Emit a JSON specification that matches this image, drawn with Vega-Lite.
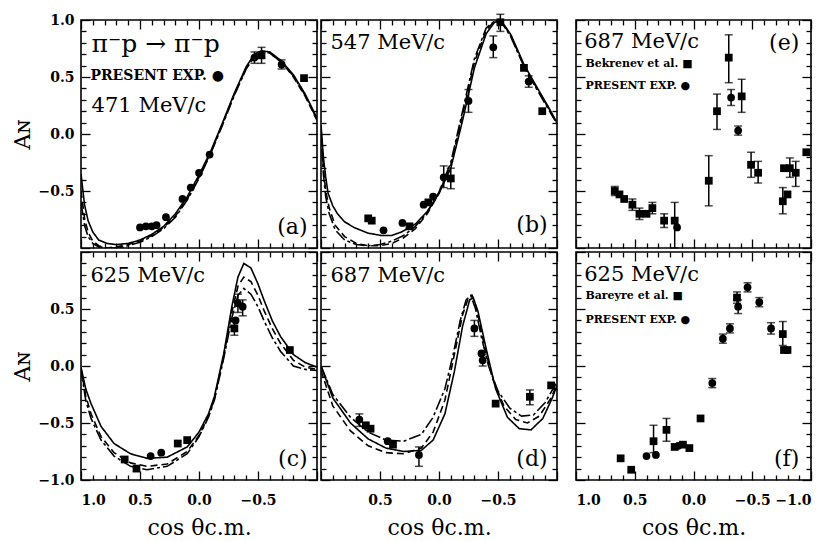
{
"$schema":"https://vega.github.io/schema/vega-lite/v6.json",
"background":"white",
"padding":{"left":11,"top":12,"right":2,"bottom":0},
"config":{
 "view":{"stroke":"black","strokeWidth":1.6},
 "axis":{"domain":false,"grid":false,"tickColor":"black","tickWidth":1.3,"labelFont":"DejaVu Serif","labelFontSize":14,"labelFontWeight":"bold","labelColor":"black","titleFont":"DejaVu Serif","titleFontSize":22,"titleFontWeight":"normal","titleColor":"black"},
 "axisX":{"labelPadding":22,"titlePadding":10},
 "axisY":{"labelPadding":16,"titlePadding":3}
},
"datasets":{
"curves":[
{"panel":"a","style":"solid","cos":1,"A":-0.35},{"panel":"a","style":"solid","cos":0.97,"A":-0.62},{"panel":"a","style":"solid","cos":0.94,"A":-0.76},{"panel":"a","style":"solid","cos":0.9,"A":-0.86},{"panel":"a","style":"solid","cos":0.85,"A":-0.93},{"panel":"a","style":"solid","cos":0.78,"A":-0.96},{"panel":"a","style":"solid","cos":0.7,"A":-0.97},{"panel":"a","style":"solid","cos":0.6,"A":-0.96},{"panel":"a","style":"solid","cos":0.5,"A":-0.93},{"panel":"a","style":"solid","cos":0.4,"A":-0.88},{"panel":"a","style":"solid","cos":0.3,"A":-0.81},{"panel":"a","style":"solid","cos":0.2,"A":-0.7},{"panel":"a","style":"solid","cos":0.1,"A":-0.55},{"panel":"a","style":"solid","cos":0,"A":-0.36},{"panel":"a","style":"solid","cos":-0.1,"A":-0.15},{"panel":"a","style":"solid","cos":-0.2,"A":0.1},{"panel":"a","style":"solid","cos":-0.3,"A":0.36},{"panel":"a","style":"solid","cos":-0.4,"A":0.59},{"panel":"a","style":"solid","cos":-0.47,"A":0.7},{"panel":"a","style":"solid","cos":-0.53,"A":0.73},{"panel":"a","style":"solid","cos":-0.6,"A":0.72},{"panel":"a","style":"solid","cos":-0.7,"A":0.64},{"panel":"a","style":"solid","cos":-0.8,"A":0.52},{"panel":"a","style":"solid","cos":-0.9,"A":0.35},{"panel":"a","style":"solid","cos":-1,"A":0.14},
{"panel":"a","style":"dash","cos":1,"A":-0.5},{"panel":"a","style":"dash","cos":0.97,"A":-0.74},{"panel":"a","style":"dash","cos":0.94,"A":-0.86},{"panel":"a","style":"dash","cos":0.9,"A":-0.94},{"panel":"a","style":"dash","cos":0.85,"A":-0.98},{"panel":"a","style":"dash","cos":0.78,"A":-1.0},{"panel":"a","style":"dash","cos":0.7,"A":-0.99},{"panel":"a","style":"dash","cos":0.6,"A":-0.97},{"panel":"a","style":"dash","cos":0.5,"A":-0.94},{"panel":"a","style":"dash","cos":0.4,"A":-0.89},{"panel":"a","style":"dash","cos":0.3,"A":-0.82},{"panel":"a","style":"dash","cos":0.2,"A":-0.72},{"panel":"a","style":"dash","cos":0.1,"A":-0.57},{"panel":"a","style":"dash","cos":0,"A":-0.38},{"panel":"a","style":"dash","cos":-0.1,"A":-0.16},{"panel":"a","style":"dash","cos":-0.2,"A":0.09},{"panel":"a","style":"dash","cos":-0.3,"A":0.35},{"panel":"a","style":"dash","cos":-0.4,"A":0.58},{"panel":"a","style":"dash","cos":-0.47,"A":0.69},{"panel":"a","style":"dash","cos":-0.53,"A":0.72},{"panel":"a","style":"dash","cos":-0.6,"A":0.71},{"panel":"a","style":"dash","cos":-0.7,"A":0.63},{"panel":"a","style":"dash","cos":-0.8,"A":0.5},{"panel":"a","style":"dash","cos":-0.9,"A":0.33},{"panel":"a","style":"dash","cos":-1,"A":0.12},
{"panel":"a","style":"dashdot","cos":1,"A":-0.6},{"panel":"a","style":"dashdot","cos":0.97,"A":-0.8},{"panel":"a","style":"dashdot","cos":0.94,"A":-0.9},{"panel":"a","style":"dashdot","cos":0.9,"A":-0.96},{"panel":"a","style":"dashdot","cos":0.85,"A":-0.99},{"panel":"a","style":"dashdot","cos":0.78,"A":-1.0},{"panel":"a","style":"dashdot","cos":0.7,"A":-1.0},{"panel":"a","style":"dashdot","cos":0.6,"A":-0.98},{"panel":"a","style":"dashdot","cos":0.5,"A":-0.95},{"panel":"a","style":"dashdot","cos":0.4,"A":-0.9},{"panel":"a","style":"dashdot","cos":0.3,"A":-0.83},{"panel":"a","style":"dashdot","cos":0.2,"A":-0.73},{"panel":"a","style":"dashdot","cos":0.1,"A":-0.58},{"panel":"a","style":"dashdot","cos":0,"A":-0.39},{"panel":"a","style":"dashdot","cos":-0.1,"A":-0.17},{"panel":"a","style":"dashdot","cos":-0.2,"A":0.08},{"panel":"a","style":"dashdot","cos":-0.3,"A":0.34},{"panel":"a","style":"dashdot","cos":-0.4,"A":0.57},{"panel":"a","style":"dashdot","cos":-0.47,"A":0.68},{"panel":"a","style":"dashdot","cos":-0.53,"A":0.72},{"panel":"a","style":"dashdot","cos":-0.6,"A":0.71},{"panel":"a","style":"dashdot","cos":-0.7,"A":0.63},{"panel":"a","style":"dashdot","cos":-0.8,"A":0.51},{"panel":"a","style":"dashdot","cos":-0.9,"A":0.34},{"panel":"a","style":"dashdot","cos":-1,"A":0.13},
{"panel":"b","style":"solid","cos":1,"A":0.08},{"panel":"b","style":"solid","cos":0.98,"A":-0.2},{"panel":"b","style":"solid","cos":0.96,"A":-0.38},{"panel":"b","style":"solid","cos":0.94,"A":-0.52},{"panel":"b","style":"solid","cos":0.9,"A":-0.63},{"panel":"b","style":"solid","cos":0.86,"A":-0.7},{"panel":"b","style":"solid","cos":0.8,"A":-0.77},{"panel":"b","style":"solid","cos":0.72,"A":-0.82},{"panel":"b","style":"solid","cos":0.6,"A":-0.87},{"panel":"b","style":"solid","cos":0.49,"A":-0.89},{"panel":"b","style":"solid","cos":0.4,"A":-0.89},{"panel":"b","style":"solid","cos":0.32,"A":-0.86},{"panel":"b","style":"solid","cos":0.2,"A":-0.79},{"panel":"b","style":"solid","cos":0.1,"A":-0.68},{"panel":"b","style":"solid","cos":0,"A":-0.52},{"panel":"b","style":"solid","cos":-0.1,"A":-0.3},{"panel":"b","style":"solid","cos":-0.2,"A":0.12},{"panel":"b","style":"solid","cos":-0.3,"A":0.58},{"panel":"b","style":"solid","cos":-0.4,"A":0.88},{"panel":"b","style":"solid","cos":-0.47,"A":0.98},{"panel":"b","style":"solid","cos":-0.53,"A":0.99},{"panel":"b","style":"solid","cos":-0.61,"A":0.87},{"panel":"b","style":"solid","cos":-0.72,"A":0.61},{"panel":"b","style":"solid","cos":-0.83,"A":0.41},{"panel":"b","style":"solid","cos":-0.92,"A":0.25},{"panel":"b","style":"solid","cos":-1,"A":0.1},
{"panel":"b","style":"dash","cos":1,"A":0.06},{"panel":"b","style":"dash","cos":0.98,"A":-0.3},{"panel":"b","style":"dash","cos":0.96,"A":-0.5},{"panel":"b","style":"dash","cos":0.93,"A":-0.65},{"panel":"b","style":"dash","cos":0.88,"A":-0.8},{"panel":"b","style":"dash","cos":0.8,"A":-0.9},{"panel":"b","style":"dash","cos":0.7,"A":-0.96},{"panel":"b","style":"dash","cos":0.6,"A":-0.98},{"panel":"b","style":"dash","cos":0.5,"A":-0.98},{"panel":"b","style":"dash","cos":0.4,"A":-0.96},{"panel":"b","style":"dash","cos":0.3,"A":-0.91},{"panel":"b","style":"dash","cos":0.2,"A":-0.83},{"panel":"b","style":"dash","cos":0.1,"A":-0.7},{"panel":"b","style":"dash","cos":0,"A":-0.52},{"panel":"b","style":"dash","cos":-0.1,"A":-0.27},{"panel":"b","style":"dash","cos":-0.2,"A":0.17},{"panel":"b","style":"dash","cos":-0.3,"A":0.63},{"panel":"b","style":"dash","cos":-0.4,"A":0.91},{"panel":"b","style":"dash","cos":-0.47,"A":0.99},{"panel":"b","style":"dash","cos":-0.53,"A":0.99},{"panel":"b","style":"dash","cos":-0.61,"A":0.86},{"panel":"b","style":"dash","cos":-0.72,"A":0.6},{"panel":"b","style":"dash","cos":-0.83,"A":0.4},{"panel":"b","style":"dash","cos":-0.92,"A":0.24},{"panel":"b","style":"dash","cos":-1,"A":0.09},
{"panel":"b","style":"dashdot","cos":1,"A":0.05},{"panel":"b","style":"dashdot","cos":0.98,"A":-0.35},{"panel":"b","style":"dashdot","cos":0.96,"A":-0.55},{"panel":"b","style":"dashdot","cos":0.93,"A":-0.7},{"panel":"b","style":"dashdot","cos":0.88,"A":-0.84},{"panel":"b","style":"dashdot","cos":0.8,"A":-0.93},{"panel":"b","style":"dashdot","cos":0.7,"A":-0.97},{"panel":"b","style":"dashdot","cos":0.6,"A":-0.98},{"panel":"b","style":"dashdot","cos":0.5,"A":-0.97},{"panel":"b","style":"dashdot","cos":0.4,"A":-0.94},{"panel":"b","style":"dashdot","cos":0.3,"A":-0.89},{"panel":"b","style":"dashdot","cos":0.2,"A":-0.81},{"panel":"b","style":"dashdot","cos":0.1,"A":-0.69},{"panel":"b","style":"dashdot","cos":0,"A":-0.51},{"panel":"b","style":"dashdot","cos":-0.1,"A":-0.25},{"panel":"b","style":"dashdot","cos":-0.2,"A":0.2},{"panel":"b","style":"dashdot","cos":-0.3,"A":0.66},{"panel":"b","style":"dashdot","cos":-0.4,"A":0.93},{"panel":"b","style":"dashdot","cos":-0.47,"A":0.99},{"panel":"b","style":"dashdot","cos":-0.53,"A":0.98},{"panel":"b","style":"dashdot","cos":-0.61,"A":0.85},{"panel":"b","style":"dashdot","cos":-0.72,"A":0.59},{"panel":"b","style":"dashdot","cos":-0.83,"A":0.39},{"panel":"b","style":"dashdot","cos":-0.92,"A":0.23},{"panel":"b","style":"dashdot","cos":-1,"A":0.09},
{"panel":"c","style":"solid","cos":1,"A":-0.01},{"panel":"c","style":"solid","cos":0.96,"A":-0.2},{"panel":"c","style":"solid","cos":0.915,"A":-0.33},{"panel":"c","style":"solid","cos":0.83,"A":-0.53},{"panel":"c","style":"solid","cos":0.72,"A":-0.68},{"panel":"c","style":"solid","cos":0.58,"A":-0.77},{"panel":"c","style":"solid","cos":0.44,"A":-0.81},{"panel":"c","style":"solid","cos":0.27,"A":-0.8},{"panel":"c","style":"solid","cos":0.1,"A":-0.71},{"panel":"c","style":"solid","cos":0,"A":-0.58},{"panel":"c","style":"solid","cos":-0.08,"A":-0.42},{"panel":"c","style":"solid","cos":-0.13,"A":-0.27},{"panel":"c","style":"solid","cos":-0.21,"A":0.11},{"panel":"c","style":"solid","cos":-0.28,"A":0.53},{"panel":"c","style":"solid","cos":-0.33,"A":0.78},{"panel":"c","style":"solid","cos":-0.38,"A":0.9},{"panel":"c","style":"solid","cos":-0.44,"A":0.86},{"panel":"c","style":"solid","cos":-0.5,"A":0.72},{"panel":"c","style":"solid","cos":-0.55,"A":0.58},{"panel":"c","style":"solid","cos":-0.62,"A":0.4},{"panel":"c","style":"solid","cos":-0.69,"A":0.26},{"panel":"c","style":"solid","cos":-0.8,"A":0.1},{"panel":"c","style":"solid","cos":-0.9,"A":0.03},{"panel":"c","style":"solid","cos":-1,"A":-0.01},
{"panel":"c","style":"dash","cos":1,"A":-0.02},{"panel":"c","style":"dash","cos":0.96,"A":-0.26},{"panel":"c","style":"dash","cos":0.915,"A":-0.42},{"panel":"c","style":"dash","cos":0.83,"A":-0.62},{"panel":"c","style":"dash","cos":0.72,"A":-0.76},{"panel":"c","style":"dash","cos":0.58,"A":-0.85},{"panel":"c","style":"dash","cos":0.44,"A":-0.88},{"panel":"c","style":"dash","cos":0.27,"A":-0.86},{"panel":"c","style":"dash","cos":0.1,"A":-0.75},{"panel":"c","style":"dash","cos":0,"A":-0.61},{"panel":"c","style":"dash","cos":-0.08,"A":-0.44},{"panel":"c","style":"dash","cos":-0.13,"A":-0.29},{"panel":"c","style":"dash","cos":-0.21,"A":0.09},{"panel":"c","style":"dash","cos":-0.28,"A":0.48},{"panel":"c","style":"dash","cos":-0.33,"A":0.7},{"panel":"c","style":"dash","cos":-0.38,"A":0.78},{"panel":"c","style":"dash","cos":-0.44,"A":0.74},{"panel":"c","style":"dash","cos":-0.5,"A":0.62},{"panel":"c","style":"dash","cos":-0.55,"A":0.49},{"panel":"c","style":"dash","cos":-0.62,"A":0.33},{"panel":"c","style":"dash","cos":-0.69,"A":0.2},{"panel":"c","style":"dash","cos":-0.8,"A":0.05},{"panel":"c","style":"dash","cos":-0.9,"A":-0.01},{"panel":"c","style":"dash","cos":-1,"A":-0.03},
{"panel":"c","style":"dashdot","cos":1,"A":-0.03},{"panel":"c","style":"dashdot","cos":0.96,"A":-0.3},{"panel":"c","style":"dashdot","cos":0.915,"A":-0.46},{"panel":"c","style":"dashdot","cos":0.83,"A":-0.65},{"panel":"c","style":"dashdot","cos":0.72,"A":-0.79},{"panel":"c","style":"dashdot","cos":0.58,"A":-0.88},{"panel":"c","style":"dashdot","cos":0.44,"A":-0.91},{"panel":"c","style":"dashdot","cos":0.27,"A":-0.88},{"panel":"c","style":"dashdot","cos":0.1,"A":-0.77},{"panel":"c","style":"dashdot","cos":0,"A":-0.62},{"panel":"c","style":"dashdot","cos":-0.08,"A":-0.45},{"panel":"c","style":"dashdot","cos":-0.13,"A":-0.3},{"panel":"c","style":"dashdot","cos":-0.21,"A":0.07},{"panel":"c","style":"dashdot","cos":-0.28,"A":0.43},{"panel":"c","style":"dashdot","cos":-0.33,"A":0.62},{"panel":"c","style":"dashdot","cos":-0.38,"A":0.68},{"panel":"c","style":"dashdot","cos":-0.44,"A":0.63},{"panel":"c","style":"dashdot","cos":-0.5,"A":0.52},{"panel":"c","style":"dashdot","cos":-0.55,"A":0.4},{"panel":"c","style":"dashdot","cos":-0.62,"A":0.25},{"panel":"c","style":"dashdot","cos":-0.69,"A":0.13},{"panel":"c","style":"dashdot","cos":-0.8,"A":0.0},{"panel":"c","style":"dashdot","cos":-0.9,"A":-0.03},{"panel":"c","style":"dashdot","cos":-1,"A":-0.04},
{"panel":"d","style":"dashdot","cos":1,"A":0},{"panel":"d","style":"dashdot","cos":0.9,"A":-0.25},{"panel":"d","style":"dashdot","cos":0.75,"A":-0.45},{"panel":"d","style":"dashdot","cos":0.6,"A":-0.58},{"panel":"d","style":"dashdot","cos":0.45,"A":-0.65},{"panel":"d","style":"dashdot","cos":0.3,"A":-0.66},{"panel":"d","style":"dashdot","cos":0.15,"A":-0.6},{"panel":"d","style":"dashdot","cos":0.05,"A":-0.45},{"panel":"d","style":"dashdot","cos":-0.05,"A":-0.2},{"panel":"d","style":"dashdot","cos":-0.12,"A":0.1},{"panel":"d","style":"dashdot","cos":-0.18,"A":0.4},{"panel":"d","style":"dashdot","cos":-0.23,"A":0.58},{"panel":"d","style":"dashdot","cos":-0.27,"A":0.62},{"panel":"d","style":"dashdot","cos":-0.31,"A":0.5},{"panel":"d","style":"dashdot","cos":-0.36,"A":0.25},{"panel":"d","style":"dashdot","cos":-0.42,"A":0.0},{"panel":"d","style":"dashdot","cos":-0.5,"A":-0.22},{"panel":"d","style":"dashdot","cos":-0.6,"A":-0.37},{"panel":"d","style":"dashdot","cos":-0.7,"A":-0.44},{"panel":"d","style":"dashdot","cos":-0.8,"A":-0.43},{"panel":"d","style":"dashdot","cos":-0.9,"A":-0.32},{"panel":"d","style":"dashdot","cos":-1,"A":-0.14},
{"panel":"d","style":"dash","cos":1,"A":-0.04},{"panel":"d","style":"dash","cos":0.9,"A":-0.35},{"panel":"d","style":"dash","cos":0.75,"A":-0.57},{"panel":"d","style":"dash","cos":0.6,"A":-0.7},{"panel":"d","style":"dash","cos":0.45,"A":-0.76},{"panel":"d","style":"dash","cos":0.3,"A":-0.77},{"panel":"d","style":"dash","cos":0.15,"A":-0.72},{"panel":"d","style":"dash","cos":0.05,"A":-0.58},{"panel":"d","style":"dash","cos":-0.05,"A":-0.3},{"panel":"d","style":"dash","cos":-0.13,"A":0.1},{"panel":"d","style":"dash","cos":-0.2,"A":0.45},{"panel":"d","style":"dash","cos":-0.25,"A":0.6},{"panel":"d","style":"dash","cos":-0.28,"A":0.62},{"panel":"d","style":"dash","cos":-0.32,"A":0.5},{"panel":"d","style":"dash","cos":-0.38,"A":0.2},{"panel":"d","style":"dash","cos":-0.45,"A":-0.1},{"panel":"d","style":"dash","cos":-0.55,"A":-0.35},{"panel":"d","style":"dash","cos":-0.65,"A":-0.47},{"panel":"d","style":"dash","cos":-0.75,"A":-0.5},{"panel":"d","style":"dash","cos":-0.85,"A":-0.44},{"panel":"d","style":"dash","cos":-0.95,"A":-0.28},{"panel":"d","style":"dash","cos":-1,"A":-0.16},
{"panel":"d","style":"solid","cos":1,"A":0},{"panel":"d","style":"solid","cos":0.9,"A":-0.28},{"panel":"d","style":"solid","cos":0.75,"A":-0.5},{"panel":"d","style":"solid","cos":0.6,"A":-0.64},{"panel":"d","style":"solid","cos":0.45,"A":-0.72},{"panel":"d","style":"solid","cos":0.3,"A":-0.75},{"panel":"d","style":"solid","cos":0.15,"A":-0.74},{"panel":"d","style":"solid","cos":0.05,"A":-0.65},{"panel":"d","style":"solid","cos":-0.05,"A":-0.42},{"panel":"d","style":"solid","cos":-0.13,"A":-0.05},{"panel":"d","style":"solid","cos":-0.2,"A":0.35},{"panel":"d","style":"solid","cos":-0.26,"A":0.58},{"panel":"d","style":"solid","cos":-0.29,"A":0.6},{"panel":"d","style":"solid","cos":-0.33,"A":0.48},{"panel":"d","style":"solid","cos":-0.4,"A":0.15},{"panel":"d","style":"solid","cos":-0.48,"A":-0.2},{"panel":"d","style":"solid","cos":-0.58,"A":-0.45},{"panel":"d","style":"solid","cos":-0.68,"A":-0.55},{"panel":"d","style":"solid","cos":-0.78,"A":-0.56},{"panel":"d","style":"solid","cos":-0.88,"A":-0.46},{"panel":"d","style":"solid","cos":-0.96,"A":-0.28},{"panel":"d","style":"solid","cos":-1,"A":-0.17}
],
"points":[
{"panel":"a","type":"c","cos":0.5,"A":-0.82},{"panel":"a","type":"c","cos":0.45,"A":-0.81},{"panel":"a","type":"c","cos":0.4,"A":-0.81},{"panel":"a","type":"c","cos":0.36,"A":-0.8},{"panel":"a","type":"c","cos":0.28,"A":-0.73},{"panel":"a","type":"c","cos":0.14,"A":-0.57},{"panel":"a","type":"c","cos":0.07,"A":-0.47},{"panel":"a","type":"c","cos":0.0,"A":-0.34},{"panel":"a","type":"c","cos":-0.09,"A":-0.18},{"panel":"a","type":"c","cos":-0.47,"A":0.67,"lo":0.62,"hi":0.72},{"panel":"a","type":"s","cos":-0.53,"A":0.69,"lo":0.62,"hi":0.76},{"panel":"a","type":"c","cos":-0.7,"A":0.61,"lo":0.57,"hi":0.65},{"panel":"a","type":"s","cos":-0.89,"A":0.49},
{"panel":"b","type":"s","cos":0.6,"A":-0.74},{"panel":"b","type":"s","cos":0.57,"A":-0.76},{"panel":"b","type":"c","cos":0.47,"A":-0.845},{"panel":"b","type":"c","cos":0.31,"A":-0.78},{"panel":"b","type":"s","cos":0.25,"A":-0.81},{"panel":"b","type":"c","cos":0.13,"A":-0.62},{"panel":"b","type":"s","cos":0.09,"A":-0.6},{"panel":"b","type":"c","cos":0.05,"A":-0.55},{"panel":"b","type":"c","cos":-0.04,"A":-0.38,"lo":-0.47,"hi":-0.28},{"panel":"b","type":"s","cos":-0.1,"A":-0.39,"lo":-0.48,"hi":-0.3},{"panel":"b","type":"c","cos":-0.25,"A":0.29,"lo":0.19,"hi":0.39},{"panel":"b","type":"c","cos":-0.46,"A":0.76,"lo":0.67,"hi":0.86},{"panel":"b","type":"s","cos":-0.52,"A":0.98,"lo":0.9,"hi":1.05},{"panel":"b","type":"s","cos":-0.72,"A":0.58},{"panel":"b","type":"c","cos":-0.76,"A":0.46,"lo":0.41,"hi":0.51},{"panel":"b","type":"s","cos":-0.875,"A":0.2},
{"panel":"c","type":"s","cos":0.63,"A":-0.82},{"panel":"c","type":"s","cos":0.53,"A":-0.9},{"panel":"c","type":"c","cos":0.41,"A":-0.79},{"panel":"c","type":"c","cos":0.32,"A":-0.76},{"panel":"c","type":"s","cos":0.18,"A":-0.68},{"panel":"c","type":"s","cos":0.1,"A":-0.65},{"panel":"c","type":"s","cos":-0.3,"A":0.33,"lo":0.27,"hi":0.4},{"panel":"c","type":"c","cos":-0.31,"A":0.4},{"panel":"c","type":"c","cos":-0.33,"A":0.55,"lo":0.47,"hi":0.63},{"panel":"c","type":"c","cos":-0.37,"A":0.52,"lo":0.44,"hi":0.58},{"panel":"c","type":"s","cos":-0.77,"A":0.14},
{"panel":"d","type":"c","cos":0.675,"A":-0.47,"lo":-0.53,"hi":-0.42},{"panel":"d","type":"s","cos":0.62,"A":-0.52},{"panel":"d","type":"s","cos":0.58,"A":-0.55},{"panel":"d","type":"c","cos":0.435,"A":-0.66},{"panel":"d","type":"s","cos":0.39,"A":-0.69},{"panel":"d","type":"c","cos":0.17,"A":-0.78,"lo":-0.88,"hi":-0.71},{"panel":"d","type":"c","cos":-0.3,"A":0.33,"lo":0.26,"hi":0.4},{"panel":"d","type":"c","cos":-0.36,"A":0.11},{"panel":"d","type":"c","cos":-0.37,"A":0.05,"lo":0.0,"hi":0.1},{"panel":"d","type":"s","cos":-0.48,"A":-0.33},{"panel":"d","type":"s","cos":-0.77,"A":-0.27,"lo":-0.34,"hi":-0.21},{"panel":"d","type":"s","cos":-0.95,"A":-0.17},
{"panel":"e","type":"s","cos":0.67,"A":-0.5,"lo":-0.54,"hi":-0.46},{"panel":"e","type":"s","cos":0.63,"A":-0.53},{"panel":"e","type":"s","cos":0.59,"A":-0.57},{"panel":"e","type":"s","cos":0.52,"A":-0.62,"lo":-0.67,"hi":-0.57},{"panel":"e","type":"s","cos":0.46,"A":-0.7,"lo":-0.75,"hi":-0.65},{"panel":"e","type":"s","cos":0.4,"A":-0.7},{"panel":"e","type":"s","cos":0.35,"A":-0.65,"lo":-0.7,"hi":-0.6},{"panel":"e","type":"s","cos":0.25,"A":-0.76,"lo":-0.82,"hi":-0.7},{"panel":"e","type":"s","cos":0.16,"A":-0.76,"lo":-1.0,"hi":-0.6},{"panel":"e","type":"c","cos":0.14,"A":-0.82},{"panel":"e","type":"s","cos":-0.13,"A":-0.41,"lo":-0.63,"hi":-0.19},{"panel":"e","type":"s","cos":-0.2,"A":0.2,"lo":0.04,"hi":0.35},{"panel":"e","type":"s","cos":-0.3,"A":0.67,"lo":0.45,"hi":0.87},{"panel":"e","type":"c","cos":-0.32,"A":0.32,"lo":0.25,"hi":0.39},{"panel":"e","type":"s","cos":-0.41,"A":0.33,"lo":0.19,"hi":0.48},{"panel":"e","type":"c","cos":-0.38,"A":0.03,"lo":-0.01,"hi":0.07},{"panel":"e","type":"s","cos":-0.49,"A":-0.27,"lo":-0.38,"hi":-0.16},{"panel":"e","type":"s","cos":-0.55,"A":-0.34,"lo":-0.43,"hi":-0.24},{"panel":"e","type":"s","cos":-0.76,"A":-0.59,"lo":-0.7,"hi":-0.47},{"panel":"e","type":"s","cos":-0.8,"A":-0.53},{"panel":"e","type":"s","cos":-0.77,"A":-0.3},{"panel":"e","type":"s","cos":-0.82,"A":-0.3,"lo":-0.38,"hi":-0.21},{"panel":"e","type":"s","cos":-0.87,"A":-0.34,"lo":-0.46,"hi":-0.24},{"panel":"e","type":"s","cos":-0.96,"A":-0.16},
{"panel":"f","type":"s","cos":0.62,"A":-0.81},{"panel":"f","type":"s","cos":0.53,"A":-0.91},{"panel":"f","type":"c","cos":0.4,"A":-0.79},{"panel":"f","type":"c","cos":0.32,"A":-0.78},{"panel":"f","type":"s","cos":0.34,"A":-0.66,"lo":-0.76,"hi":-0.52},{"panel":"f","type":"s","cos":0.23,"A":-0.56,"lo":-0.66,"hi":-0.46},{"panel":"f","type":"s","cos":0.16,"A":-0.71},{"panel":"f","type":"c","cos":0.13,"A":-0.7},{"panel":"f","type":"s","cos":0.09,"A":-0.69},{"panel":"f","type":"s","cos":0.035,"A":-0.72},{"panel":"f","type":"s","cos":-0.06,"A":-0.46},{"panel":"f","type":"c","cos":-0.16,"A":-0.15,"lo":-0.19,"hi":-0.11},{"panel":"f","type":"c","cos":-0.25,"A":0.24,"lo":0.2,"hi":0.28},{"panel":"f","type":"c","cos":-0.31,"A":0.33,"lo":0.29,"hi":0.37},{"panel":"f","type":"s","cos":-0.37,"A":0.6,"lo":0.55,"hi":0.65},{"panel":"f","type":"c","cos":-0.38,"A":0.52,"lo":0.46,"hi":0.58},{"panel":"f","type":"c","cos":-0.46,"A":0.69,"lo":0.65,"hi":0.73},{"panel":"f","type":"c","cos":-0.56,"A":0.56,"lo":0.52,"hi":0.6},{"panel":"f","type":"c","cos":-0.66,"A":0.33,"lo":0.28,"hi":0.38},{"panel":"f","type":"s","cos":-0.76,"A":0.28,"lo":0.18,"hi":0.39},{"panel":"f","type":"s","cos":-0.77,"A":0.14},{"panel":"f","type":"s","cos":-0.8,"A":0.14}
]
},
"spacing":15,
"hconcat":[
{"spacing":0,"vconcat":[
 {"spacing":0,"hconcat":[
  {"width":236,"height":228,"resolve":{"axis":{"x":"independent","y":"independent"}},"layer":[
   {"data":{"name":"curves"},"transform":[{"filter":"datum.panel === 'a'"}],"mark":{"type":"line","clip":true,"color":"black","strokeWidth":1.6},
    "encoding":{"x":{"field":"cos","type":"quantitative","scale":{"domain":[-1,1],"reverse":true,"nice":false,"zero":false},"axis":{"orient":"bottom","values":[-1,-0.9,-0.8,-0.7,-0.6,-0.5,-0.4,-0.3,-0.2,-0.1,0,0.1,0.2,0.3,0.4,0.5,0.6,0.7,0.8,0.9,1],"tickSize":{"condition":{"test":"abs(datum.value*2-round(datum.value*2))<0.001","value":-9},"value":-5},"labels":false,"title":null}},
     "y":{"field":"A","type":"quantitative","scale":{"domain":[-1,1],"nice":false,"zero":false},"axis":{"orient":"left","values":[-1,-0.9,-0.8,-0.7,-0.6,-0.5,-0.4,-0.3,-0.2,-0.1,0,0.1,0.2,0.3,0.4,0.5,0.6,0.7,0.8,0.9,1],"tickSize":{"condition":{"test":"abs(datum.value*2-round(datum.value*2))<0.001","value":-9},"value":-5},"labelExpr":"abs(datum.value*2-round(datum.value*2))<0.001 && datum.value>-0.9 ? format(datum.value,'.1f') : ''","title":"Aɴ"}},
     "strokeDash":{"field":"style","type":"nominal","scale":{"domain":["solid","dash","dashdot"],"range":[[1,0],[7,4],[12,3,3,3]]},"legend":null}}},
   {"data":{"name":"points"},"transform":[{"filter":"datum.panel === 'a' && isValid(datum.lo)"}],"mark":{"type":"rule","color":"black","strokeWidth":1.5},
    "encoding":{"x":{"field":"cos","type":"quantitative","scale":{"domain":[-1,1],"reverse":true,"nice":false,"zero":false},"axis":null},"y":{"field":"lo","type":"quantitative","scale":{"domain":[-1,1],"nice":false,"zero":false},"axis":null},"y2":{"field":"hi"}}},
   {"data":{"name":"points"},"transform":[{"filter":"datum.panel === 'a' && isValid(datum.lo)"}],"mark":{"type":"tick","orient":"horizontal","color":"black","size":8,"thickness":1.5},
    "encoding":{"x":{"field":"cos","type":"quantitative","scale":{"domain":[-1,1],"reverse":true,"nice":false,"zero":false},"axis":null},"y":{"field":"lo","type":"quantitative","scale":{"domain":[-1,1],"nice":false,"zero":false},"axis":null}}},
   {"data":{"name":"points"},"transform":[{"filter":"datum.panel === 'a' && isValid(datum.lo)"}],"mark":{"type":"tick","orient":"horizontal","color":"black","size":8,"thickness":1.5},
    "encoding":{"x":{"field":"cos","type":"quantitative","scale":{"domain":[-1,1],"reverse":true,"nice":false,"zero":false},"axis":null},"y":{"field":"hi","type":"quantitative","scale":{"domain":[-1,1],"nice":false,"zero":false},"axis":null}}},
   {"data":{"name":"points"},"transform":[{"filter":"datum.panel === 'a'"}],"mark":{"type":"point","filled":true,"color":"black","opacity":1,"size":60},
    "encoding":{"x":{"field":"cos","type":"quantitative","scale":{"domain":[-1,1],"reverse":true,"nice":false,"zero":false},"axis":null},"y":{"field":"A","type":"quantitative","scale":{"domain":[-1,1],"nice":false,"zero":false},"axis":null},"shape":{"field":"type","type":"nominal","scale":{"domain":["c","s"],"range":["circle","square"]},"legend":null}}},
   {"data":{"values":[{"t":"π⁻p → π⁻p"}]},"mark":{"type":"text","align":"left","baseline":"middle","font":"DejaVu Serif","fontSize":25,"color":"black"},
    "encoding":{"x":{"datum":0.91,"type":"quantitative","scale":{"domain":[-1,1],"reverse":true,"nice":false,"zero":false},"axis":null},"y":{"datum":0.79,"type":"quantitative","scale":{"domain":[-1,1],"nice":false,"zero":false},"axis":null},"text":{"field":"t"}}},
   {"data":{"values":[{"t":"PRESENT EXP. ●"}]},"mark":{"type":"text","align":"left","baseline":"middle","font":"DejaVu Serif","fontSize":14,"fontWeight":"bold","color":"black"},
    "encoding":{"x":{"datum":0.92,"type":"quantitative","scale":{"domain":[-1,1],"reverse":true,"nice":false,"zero":false},"axis":null},"y":{"datum":0.51,"type":"quantitative","scale":{"domain":[-1,1],"nice":false,"zero":false},"axis":null},"text":{"field":"t"}}},
   {"data":{"values":[{"t":"471 MeV/c"}]},"mark":{"type":"text","align":"left","baseline":"middle","font":"DejaVu Serif","fontSize":21,"color":"black"},
    "encoding":{"x":{"datum":0.91,"type":"quantitative","scale":{"domain":[-1,1],"reverse":true,"nice":false,"zero":false},"axis":null},"y":{"datum":0.25,"type":"quantitative","scale":{"domain":[-1,1],"nice":false,"zero":false},"axis":null},"text":{"field":"t"}}},
   {"data":{"values":[{"t":"(a)"}]},"mark":{"type":"text","align":"right","baseline":"middle","font":"DejaVu Serif","fontSize":22,"color":"black"},
    "encoding":{"x":{"datum":-0.92,"type":"quantitative","scale":{"domain":[-1,1],"reverse":true,"nice":false,"zero":false},"axis":null},"y":{"datum":-0.82,"type":"quantitative","scale":{"domain":[-1,1],"nice":false,"zero":false},"axis":null},"text":{"field":"t"}}},
   {"data":{"values":[{"cos":0,"A":0}]},"mark":{"type":"point","opacity":0},
    "encoding":{"x":{"field":"cos","type":"quantitative","scale":{"domain":[-1,1],"reverse":true,"nice":false,"zero":false},"axis":{"orient":"top","values":[-1,-0.9,-0.8,-0.7,-0.6,-0.5,-0.4,-0.3,-0.2,-0.1,0,0.1,0.2,0.3,0.4,0.5,0.6,0.7,0.8,0.9,1],"tickSize":{"condition":{"test":"abs(datum.value*2-round(datum.value*2))<0.001","value":-9},"value":-5},"labels":false,"title":null}},
     "y":{"field":"A","type":"quantitative","scale":{"domain":[-1,1],"nice":false,"zero":false},"axis":{"orient":"right","values":[-1,-0.9,-0.8,-0.7,-0.6,-0.5,-0.4,-0.3,-0.2,-0.1,0,0.1,0.2,0.3,0.4,0.5,0.6,0.7,0.8,0.9,1],"tickSize":{"condition":{"test":"abs(datum.value*2-round(datum.value*2))<0.001","value":-9},"value":-5},"labels":false,"title":null}}}}
  ]},
  {"width":236,"height":228,"resolve":{"axis":{"x":"independent","y":"independent"}},"layer":[
   {"data":{"name":"curves"},"transform":[{"filter":"datum.panel === 'b'"}],"mark":{"type":"line","clip":true,"color":"black","strokeWidth":1.6},
    "encoding":{"x":{"field":"cos","type":"quantitative","scale":{"domain":[-1,1],"reverse":true,"nice":false,"zero":false},"axis":{"orient":"bottom","values":[-1,-0.9,-0.8,-0.7,-0.6,-0.5,-0.4,-0.3,-0.2,-0.1,0,0.1,0.2,0.3,0.4,0.5,0.6,0.7,0.8,0.9,1],"tickSize":{"condition":{"test":"abs(datum.value*2-round(datum.value*2))<0.001","value":-9},"value":-5},"labels":false,"title":null}},
     "y":{"field":"A","type":"quantitative","scale":{"domain":[-1,1],"nice":false,"zero":false},"axis":{"orient":"left","values":[-1,-0.9,-0.8,-0.7,-0.6,-0.5,-0.4,-0.3,-0.2,-0.1,0,0.1,0.2,0.3,0.4,0.5,0.6,0.7,0.8,0.9,1],"tickSize":{"condition":{"test":"abs(datum.value*2-round(datum.value*2))<0.001","value":-9},"value":-5},"labels":false,"title":null}},
     "strokeDash":{"field":"style","type":"nominal","scale":{"domain":["solid","dash","dashdot"],"range":[[1,0],[7,4],[12,3,3,3]]},"legend":null}}},
   {"data":{"name":"points"},"transform":[{"filter":"datum.panel === 'b' && isValid(datum.lo)"}],"mark":{"type":"rule","color":"black","strokeWidth":1.5},
    "encoding":{"x":{"field":"cos","type":"quantitative","scale":{"domain":[-1,1],"reverse":true,"nice":false,"zero":false},"axis":null},"y":{"field":"lo","type":"quantitative","scale":{"domain":[-1,1],"nice":false,"zero":false},"axis":null},"y2":{"field":"hi"}}},
   {"data":{"name":"points"},"transform":[{"filter":"datum.panel === 'b' && isValid(datum.lo)"}],"mark":{"type":"tick","orient":"horizontal","color":"black","size":8,"thickness":1.5},
    "encoding":{"x":{"field":"cos","type":"quantitative","scale":{"domain":[-1,1],"reverse":true,"nice":false,"zero":false},"axis":null},"y":{"field":"lo","type":"quantitative","scale":{"domain":[-1,1],"nice":false,"zero":false},"axis":null}}},
   {"data":{"name":"points"},"transform":[{"filter":"datum.panel === 'b' && isValid(datum.lo)"}],"mark":{"type":"tick","orient":"horizontal","color":"black","size":8,"thickness":1.5},
    "encoding":{"x":{"field":"cos","type":"quantitative","scale":{"domain":[-1,1],"reverse":true,"nice":false,"zero":false},"axis":null},"y":{"field":"hi","type":"quantitative","scale":{"domain":[-1,1],"nice":false,"zero":false},"axis":null}}},
   {"data":{"name":"points"},"transform":[{"filter":"datum.panel === 'b'"}],"mark":{"type":"point","filled":true,"color":"black","opacity":1,"size":60},
    "encoding":{"x":{"field":"cos","type":"quantitative","scale":{"domain":[-1,1],"reverse":true,"nice":false,"zero":false},"axis":null},"y":{"field":"A","type":"quantitative","scale":{"domain":[-1,1],"nice":false,"zero":false},"axis":null},"shape":{"field":"type","type":"nominal","scale":{"domain":["c","s"],"range":["circle","square"]},"legend":null}}},
   {"data":{"values":[{"t":"547 MeV/c"}]},"mark":{"type":"text","align":"left","baseline":"middle","font":"DejaVu Serif","fontSize":21,"color":"black"},
    "encoding":{"x":{"datum":0.92,"type":"quantitative","scale":{"domain":[-1,1],"reverse":true,"nice":false,"zero":false},"axis":null},"y":{"datum":0.8,"type":"quantitative","scale":{"domain":[-1,1],"nice":false,"zero":false},"axis":null},"text":{"field":"t"}}},
   {"data":{"values":[{"t":"(b)"}]},"mark":{"type":"text","align":"right","baseline":"middle","font":"DejaVu Serif","fontSize":22,"color":"black"},
    "encoding":{"x":{"datum":-0.92,"type":"quantitative","scale":{"domain":[-1,1],"reverse":true,"nice":false,"zero":false},"axis":null},"y":{"datum":-0.8,"type":"quantitative","scale":{"domain":[-1,1],"nice":false,"zero":false},"axis":null},"text":{"field":"t"}}},
   {"data":{"values":[{"cos":0,"A":0}]},"mark":{"type":"point","opacity":0},
    "encoding":{"x":{"field":"cos","type":"quantitative","scale":{"domain":[-1,1],"reverse":true,"nice":false,"zero":false},"axis":{"orient":"top","values":[-1,-0.9,-0.8,-0.7,-0.6,-0.5,-0.4,-0.3,-0.2,-0.1,0,0.1,0.2,0.3,0.4,0.5,0.6,0.7,0.8,0.9,1],"tickSize":{"condition":{"test":"abs(datum.value*2-round(datum.value*2))<0.001","value":-9},"value":-5},"labels":false,"title":null}},
     "y":{"field":"A","type":"quantitative","scale":{"domain":[-1,1],"nice":false,"zero":false},"axis":{"orient":"right","values":[-1,-0.9,-0.8,-0.7,-0.6,-0.5,-0.4,-0.3,-0.2,-0.1,0,0.1,0.2,0.3,0.4,0.5,0.6,0.7,0.8,0.9,1],"tickSize":{"condition":{"test":"abs(datum.value*2-round(datum.value*2))<0.001","value":-9},"value":-5},"labels":false,"title":null}}}}
  ]}
 ]},
 {"spacing":0,"hconcat":[
  {"width":236,"height":228,"resolve":{"axis":{"x":"independent","y":"independent"}},"layer":[
   {"data":{"name":"curves"},"transform":[{"filter":"datum.panel === 'c'"}],"mark":{"type":"line","clip":true,"color":"black","strokeWidth":1.6},
    "encoding":{"x":{"field":"cos","type":"quantitative","scale":{"domain":[-1,1],"reverse":true,"nice":false,"zero":false},"axis":{"orient":"bottom","values":[-1,-0.9,-0.8,-0.7,-0.6,-0.5,-0.4,-0.3,-0.2,-0.1,0,0.1,0.2,0.3,0.4,0.5,0.6,0.7,0.8,0.9,1],"tickSize":{"condition":{"test":"abs(datum.value*2-round(datum.value*2))<0.001","value":-9},"value":-5},"labelExpr":"abs(datum.value*2-round(datum.value*2))<0.001 && datum.value>-0.9 ? format(datum.value,'.1f') : ''","title":"cos θc.m."}},
     "y":{"field":"A","type":"quantitative","scale":{"domain":[-1,1],"nice":false,"zero":false},"axis":{"orient":"left","values":[-1,-0.9,-0.8,-0.7,-0.6,-0.5,-0.4,-0.3,-0.2,-0.1,0,0.1,0.2,0.3,0.4,0.5,0.6,0.7,0.8,0.9,1],"tickSize":{"condition":{"test":"abs(datum.value*2-round(datum.value*2))<0.001","value":-9},"value":-5},"labelExpr":"abs(datum.value*2-round(datum.value*2))<0.001 && datum.value<0.9 ? format(datum.value,'.1f') : ''","title":"Aɴ"}},
     "strokeDash":{"field":"style","type":"nominal","scale":{"domain":["solid","dash","dashdot"],"range":[[1,0],[7,4],[12,3,3,3]]},"legend":null}}},
   {"data":{"name":"points"},"transform":[{"filter":"datum.panel === 'c' && isValid(datum.lo)"}],"mark":{"type":"rule","color":"black","strokeWidth":1.5},
    "encoding":{"x":{"field":"cos","type":"quantitative","scale":{"domain":[-1,1],"reverse":true,"nice":false,"zero":false},"axis":null},"y":{"field":"lo","type":"quantitative","scale":{"domain":[-1,1],"nice":false,"zero":false},"axis":null},"y2":{"field":"hi"}}},
   {"data":{"name":"points"},"transform":[{"filter":"datum.panel === 'c' && isValid(datum.lo)"}],"mark":{"type":"tick","orient":"horizontal","color":"black","size":8,"thickness":1.5},
    "encoding":{"x":{"field":"cos","type":"quantitative","scale":{"domain":[-1,1],"reverse":true,"nice":false,"zero":false},"axis":null},"y":{"field":"lo","type":"quantitative","scale":{"domain":[-1,1],"nice":false,"zero":false},"axis":null}}},
   {"data":{"name":"points"},"transform":[{"filter":"datum.panel === 'c' && isValid(datum.lo)"}],"mark":{"type":"tick","orient":"horizontal","color":"black","size":8,"thickness":1.5},
    "encoding":{"x":{"field":"cos","type":"quantitative","scale":{"domain":[-1,1],"reverse":true,"nice":false,"zero":false},"axis":null},"y":{"field":"hi","type":"quantitative","scale":{"domain":[-1,1],"nice":false,"zero":false},"axis":null}}},
   {"data":{"name":"points"},"transform":[{"filter":"datum.panel === 'c'"}],"mark":{"type":"point","filled":true,"color":"black","opacity":1,"size":60},
    "encoding":{"x":{"field":"cos","type":"quantitative","scale":{"domain":[-1,1],"reverse":true,"nice":false,"zero":false},"axis":null},"y":{"field":"A","type":"quantitative","scale":{"domain":[-1,1],"nice":false,"zero":false},"axis":null},"shape":{"field":"type","type":"nominal","scale":{"domain":["c","s"],"range":["circle","square"]},"legend":null}}},
   {"data":{"values":[{"t":"625 MeV/c"}]},"mark":{"type":"text","align":"left","baseline":"middle","font":"DejaVu Serif","fontSize":21,"color":"black"},
    "encoding":{"x":{"datum":0.92,"type":"quantitative","scale":{"domain":[-1,1],"reverse":true,"nice":false,"zero":false},"axis":null},"y":{"datum":0.79,"type":"quantitative","scale":{"domain":[-1,1],"nice":false,"zero":false},"axis":null},"text":{"field":"t"}}},
   {"data":{"values":[{"t":"(c)"}]},"mark":{"type":"text","align":"right","baseline":"middle","font":"DejaVu Serif","fontSize":22,"color":"black"},
    "encoding":{"x":{"datum":-0.92,"type":"quantitative","scale":{"domain":[-1,1],"reverse":true,"nice":false,"zero":false},"axis":null},"y":{"datum":-0.82,"type":"quantitative","scale":{"domain":[-1,1],"nice":false,"zero":false},"axis":null},"text":{"field":"t"}}},
   {"data":{"values":[{"cos":0,"A":0}]},"mark":{"type":"point","opacity":0},
    "encoding":{"x":{"field":"cos","type":"quantitative","scale":{"domain":[-1,1],"reverse":true,"nice":false,"zero":false},"axis":{"orient":"top","values":[-1,-0.9,-0.8,-0.7,-0.6,-0.5,-0.4,-0.3,-0.2,-0.1,0,0.1,0.2,0.3,0.4,0.5,0.6,0.7,0.8,0.9,1],"tickSize":{"condition":{"test":"abs(datum.value*2-round(datum.value*2))<0.001","value":-9},"value":-5},"labels":false,"title":null}},
     "y":{"field":"A","type":"quantitative","scale":{"domain":[-1,1],"nice":false,"zero":false},"axis":{"orient":"right","values":[-1,-0.9,-0.8,-0.7,-0.6,-0.5,-0.4,-0.3,-0.2,-0.1,0,0.1,0.2,0.3,0.4,0.5,0.6,0.7,0.8,0.9,1],"tickSize":{"condition":{"test":"abs(datum.value*2-round(datum.value*2))<0.001","value":-9},"value":-5},"labels":false,"title":null}}}}
  ]},
  {"width":236,"height":228,"resolve":{"axis":{"x":"independent","y":"independent"}},"layer":[
   {"data":{"name":"curves"},"transform":[{"filter":"datum.panel === 'd'"}],"mark":{"type":"line","clip":true,"color":"black","strokeWidth":1.6},
    "encoding":{"x":{"field":"cos","type":"quantitative","scale":{"domain":[-1,1],"reverse":true,"nice":false,"zero":false},"axis":{"orient":"bottom","values":[-1,-0.9,-0.8,-0.7,-0.6,-0.5,-0.4,-0.3,-0.2,-0.1,0,0.1,0.2,0.3,0.4,0.5,0.6,0.7,0.8,0.9,1],"tickSize":{"condition":{"test":"abs(datum.value*2-round(datum.value*2))<0.001","value":-9},"value":-5},"labelExpr":"abs(datum.value*2-round(datum.value*2))<0.001 && abs(datum.value)<0.9 ? format(datum.value,'.1f') : ''","title":"cos θc.m."}},
     "y":{"field":"A","type":"quantitative","scale":{"domain":[-1,1],"nice":false,"zero":false},"axis":{"orient":"left","values":[-1,-0.9,-0.8,-0.7,-0.6,-0.5,-0.4,-0.3,-0.2,-0.1,0,0.1,0.2,0.3,0.4,0.5,0.6,0.7,0.8,0.9,1],"tickSize":{"condition":{"test":"abs(datum.value*2-round(datum.value*2))<0.001","value":-9},"value":-5},"labels":false,"title":null}},
     "strokeDash":{"field":"style","type":"nominal","scale":{"domain":["solid","dash","dashdot"],"range":[[1,0],[7,4],[12,3,3,3]]},"legend":null}}},
   {"data":{"name":"points"},"transform":[{"filter":"datum.panel === 'd' && isValid(datum.lo)"}],"mark":{"type":"rule","color":"black","strokeWidth":1.5},
    "encoding":{"x":{"field":"cos","type":"quantitative","scale":{"domain":[-1,1],"reverse":true,"nice":false,"zero":false},"axis":null},"y":{"field":"lo","type":"quantitative","scale":{"domain":[-1,1],"nice":false,"zero":false},"axis":null},"y2":{"field":"hi"}}},
   {"data":{"name":"points"},"transform":[{"filter":"datum.panel === 'd' && isValid(datum.lo)"}],"mark":{"type":"tick","orient":"horizontal","color":"black","size":8,"thickness":1.5},
    "encoding":{"x":{"field":"cos","type":"quantitative","scale":{"domain":[-1,1],"reverse":true,"nice":false,"zero":false},"axis":null},"y":{"field":"lo","type":"quantitative","scale":{"domain":[-1,1],"nice":false,"zero":false},"axis":null}}},
   {"data":{"name":"points"},"transform":[{"filter":"datum.panel === 'd' && isValid(datum.lo)"}],"mark":{"type":"tick","orient":"horizontal","color":"black","size":8,"thickness":1.5},
    "encoding":{"x":{"field":"cos","type":"quantitative","scale":{"domain":[-1,1],"reverse":true,"nice":false,"zero":false},"axis":null},"y":{"field":"hi","type":"quantitative","scale":{"domain":[-1,1],"nice":false,"zero":false},"axis":null}}},
   {"data":{"name":"points"},"transform":[{"filter":"datum.panel === 'd'"}],"mark":{"type":"point","filled":true,"color":"black","opacity":1,"size":60},
    "encoding":{"x":{"field":"cos","type":"quantitative","scale":{"domain":[-1,1],"reverse":true,"nice":false,"zero":false},"axis":null},"y":{"field":"A","type":"quantitative","scale":{"domain":[-1,1],"nice":false,"zero":false},"axis":null},"shape":{"field":"type","type":"nominal","scale":{"domain":["c","s"],"range":["circle","square"]},"legend":null}}},
   {"data":{"values":[{"t":"687 MeV/c"}]},"mark":{"type":"text","align":"left","baseline":"middle","font":"DejaVu Serif","fontSize":21,"color":"black"},
    "encoding":{"x":{"datum":0.92,"type":"quantitative","scale":{"domain":[-1,1],"reverse":true,"nice":false,"zero":false},"axis":null},"y":{"datum":0.79,"type":"quantitative","scale":{"domain":[-1,1],"nice":false,"zero":false},"axis":null},"text":{"field":"t"}}},
   {"data":{"values":[{"t":"(d)"}]},"mark":{"type":"text","align":"right","baseline":"middle","font":"DejaVu Serif","fontSize":22,"color":"black"},
    "encoding":{"x":{"datum":-0.92,"type":"quantitative","scale":{"domain":[-1,1],"reverse":true,"nice":false,"zero":false},"axis":null},"y":{"datum":-0.82,"type":"quantitative","scale":{"domain":[-1,1],"nice":false,"zero":false},"axis":null},"text":{"field":"t"}}},
   {"data":{"values":[{"cos":0,"A":0}]},"mark":{"type":"point","opacity":0},
    "encoding":{"x":{"field":"cos","type":"quantitative","scale":{"domain":[-1,1],"reverse":true,"nice":false,"zero":false},"axis":{"orient":"top","values":[-1,-0.9,-0.8,-0.7,-0.6,-0.5,-0.4,-0.3,-0.2,-0.1,0,0.1,0.2,0.3,0.4,0.5,0.6,0.7,0.8,0.9,1],"tickSize":{"condition":{"test":"abs(datum.value*2-round(datum.value*2))<0.001","value":-9},"value":-5},"labels":false,"title":null}},
     "y":{"field":"A","type":"quantitative","scale":{"domain":[-1,1],"nice":false,"zero":false},"axis":{"orient":"right","values":[-1,-0.9,-0.8,-0.7,-0.6,-0.5,-0.4,-0.3,-0.2,-0.1,0,0.1,0.2,0.3,0.4,0.5,0.6,0.7,0.8,0.9,1],"tickSize":{"condition":{"test":"abs(datum.value*2-round(datum.value*2))<0.001","value":-9},"value":-5},"labels":false,"title":null}}}}
  ]}
 ]}
]},
{"spacing":0,"vconcat":[
  {"width":235,"height":228,"resolve":{"axis":{"x":"independent","y":"independent"}},"layer":[
   {"data":{"name":"points"},"transform":[{"filter":"datum.panel === 'e' && isValid(datum.lo)"}],"mark":{"type":"rule","color":"black","strokeWidth":1.5},
    "encoding":{"x":{"field":"cos","type":"quantitative","scale":{"domain":[-1,1],"reverse":true,"nice":false,"zero":false},"axis":{"orient":"bottom","values":[-1,-0.9,-0.8,-0.7,-0.6,-0.5,-0.4,-0.3,-0.2,-0.1,0,0.1,0.2,0.3,0.4,0.5,0.6,0.7,0.8,0.9,1],"tickSize":{"condition":{"test":"abs(datum.value*2-round(datum.value*2))<0.001","value":-9},"value":-5},"labels":false,"title":null}},
     "y":{"field":"lo","type":"quantitative","scale":{"domain":[-1,1],"nice":false,"zero":false},"axis":{"orient":"left","values":[-1,-0.9,-0.8,-0.7,-0.6,-0.5,-0.4,-0.3,-0.2,-0.1,0,0.1,0.2,0.3,0.4,0.5,0.6,0.7,0.8,0.9,1],"tickSize":{"condition":{"test":"abs(datum.value*2-round(datum.value*2))<0.001","value":-9},"value":-5},"labels":false,"title":null}},"y2":{"field":"hi"}}},
   {"data":{"name":"points"},"transform":[{"filter":"datum.panel === 'e' && isValid(datum.lo)"}],"mark":{"type":"tick","orient":"horizontal","color":"black","size":8,"thickness":1.5},
    "encoding":{"x":{"field":"cos","type":"quantitative","scale":{"domain":[-1,1],"reverse":true,"nice":false,"zero":false},"axis":null},"y":{"field":"lo","type":"quantitative","scale":{"domain":[-1,1],"nice":false,"zero":false},"axis":null}}},
   {"data":{"name":"points"},"transform":[{"filter":"datum.panel === 'e' && isValid(datum.lo)"}],"mark":{"type":"tick","orient":"horizontal","color":"black","size":8,"thickness":1.5},
    "encoding":{"x":{"field":"cos","type":"quantitative","scale":{"domain":[-1,1],"reverse":true,"nice":false,"zero":false},"axis":null},"y":{"field":"hi","type":"quantitative","scale":{"domain":[-1,1],"nice":false,"zero":false},"axis":null}}},
   {"data":{"name":"points"},"transform":[{"filter":"datum.panel === 'e'"}],"mark":{"type":"point","filled":true,"color":"black","opacity":1,"size":60},
    "encoding":{"x":{"field":"cos","type":"quantitative","scale":{"domain":[-1,1],"reverse":true,"nice":false,"zero":false},"axis":null},"y":{"field":"A","type":"quantitative","scale":{"domain":[-1,1],"nice":false,"zero":false},"axis":null},"shape":{"field":"type","type":"nominal","scale":{"domain":["c","s"],"range":["circle","square"]},"legend":null}}},
   {"data":{"values":[{"t":"687 MeV/c"}]},"mark":{"type":"text","align":"left","baseline":"middle","font":"DejaVu Serif","fontSize":21,"color":"black"},
    "encoding":{"x":{"datum":0.93,"type":"quantitative","scale":{"domain":[-1,1],"reverse":true,"nice":false,"zero":false},"axis":null},"y":{"datum":0.81,"type":"quantitative","scale":{"domain":[-1,1],"nice":false,"zero":false},"axis":null},"text":{"field":"t"}}},
   {"data":{"values":[{"t":"(e)"}]},"mark":{"type":"text","align":"right","baseline":"middle","font":"DejaVu Serif","fontSize":22,"color":"black"},
    "encoding":{"x":{"datum":-0.9,"type":"quantitative","scale":{"domain":[-1,1],"reverse":true,"nice":false,"zero":false},"axis":null},"y":{"datum":0.8,"type":"quantitative","scale":{"domain":[-1,1],"nice":false,"zero":false},"axis":null},"text":{"field":"t"}}},
   {"data":{"values":[{"t":"Bekrenev et al. ■"}]},"mark":{"type":"text","align":"left","baseline":"middle","font":"DejaVu Serif","fontSize":11,"fontWeight":"bold","color":"black"},
    "encoding":{"x":{"datum":0.92,"type":"quantitative","scale":{"domain":[-1,1],"reverse":true,"nice":false,"zero":false},"axis":null},"y":{"datum":0.61,"type":"quantitative","scale":{"domain":[-1,1],"nice":false,"zero":false},"axis":null},"text":{"field":"t"}}},
   {"data":{"values":[{"t":"PRESENT EXP. ●"}]},"mark":{"type":"text","align":"left","baseline":"middle","font":"DejaVu Serif","fontSize":11,"fontWeight":"bold","color":"black"},
    "encoding":{"x":{"datum":0.92,"type":"quantitative","scale":{"domain":[-1,1],"reverse":true,"nice":false,"zero":false},"axis":null},"y":{"datum":0.42,"type":"quantitative","scale":{"domain":[-1,1],"nice":false,"zero":false},"axis":null},"text":{"field":"t"}}},
   {"data":{"values":[{"cos":0,"A":0}]},"mark":{"type":"point","opacity":0},
    "encoding":{"x":{"field":"cos","type":"quantitative","scale":{"domain":[-1,1],"reverse":true,"nice":false,"zero":false},"axis":{"orient":"top","values":[-1,-0.9,-0.8,-0.7,-0.6,-0.5,-0.4,-0.3,-0.2,-0.1,0,0.1,0.2,0.3,0.4,0.5,0.6,0.7,0.8,0.9,1],"tickSize":{"condition":{"test":"abs(datum.value*2-round(datum.value*2))<0.001","value":-9},"value":-5},"labels":false,"title":null}},
     "y":{"field":"A","type":"quantitative","scale":{"domain":[-1,1],"nice":false,"zero":false},"axis":{"orient":"right","values":[-1,-0.9,-0.8,-0.7,-0.6,-0.5,-0.4,-0.3,-0.2,-0.1,0,0.1,0.2,0.3,0.4,0.5,0.6,0.7,0.8,0.9,1],"tickSize":{"condition":{"test":"abs(datum.value*2-round(datum.value*2))<0.001","value":-9},"value":-5},"labels":false,"title":null}}}}
  ]},
  {"width":235,"height":228,"resolve":{"axis":{"x":"independent","y":"independent"}},"layer":[
   {"data":{"name":"points"},"transform":[{"filter":"datum.panel === 'f' && isValid(datum.lo)"}],"mark":{"type":"rule","color":"black","strokeWidth":1.5},
    "encoding":{"x":{"field":"cos","type":"quantitative","scale":{"domain":[-1,1],"reverse":true,"nice":false,"zero":false},"axis":{"orient":"bottom","values":[-1,-0.9,-0.8,-0.7,-0.6,-0.5,-0.4,-0.3,-0.2,-0.1,0,0.1,0.2,0.3,0.4,0.5,0.6,0.7,0.8,0.9,1],"tickSize":{"condition":{"test":"abs(datum.value*2-round(datum.value*2))<0.001","value":-9},"value":-5},"labelExpr":"abs(datum.value*2-round(datum.value*2))<0.001 ? format(datum.value,'.1f') : ''","title":"cos θc.m."}},
     "y":{"field":"lo","type":"quantitative","scale":{"domain":[-1,1],"nice":false,"zero":false},"axis":{"orient":"left","values":[-1,-0.9,-0.8,-0.7,-0.6,-0.5,-0.4,-0.3,-0.2,-0.1,0,0.1,0.2,0.3,0.4,0.5,0.6,0.7,0.8,0.9,1],"tickSize":{"condition":{"test":"abs(datum.value*2-round(datum.value*2))<0.001","value":-9},"value":-5},"labels":false,"title":null}},"y2":{"field":"hi"}}},
   {"data":{"name":"points"},"transform":[{"filter":"datum.panel === 'f' && isValid(datum.lo)"}],"mark":{"type":"tick","orient":"horizontal","color":"black","size":8,"thickness":1.5},
    "encoding":{"x":{"field":"cos","type":"quantitative","scale":{"domain":[-1,1],"reverse":true,"nice":false,"zero":false},"axis":null},"y":{"field":"lo","type":"quantitative","scale":{"domain":[-1,1],"nice":false,"zero":false},"axis":null}}},
   {"data":{"name":"points"},"transform":[{"filter":"datum.panel === 'f' && isValid(datum.lo)"}],"mark":{"type":"tick","orient":"horizontal","color":"black","size":8,"thickness":1.5},
    "encoding":{"x":{"field":"cos","type":"quantitative","scale":{"domain":[-1,1],"reverse":true,"nice":false,"zero":false},"axis":null},"y":{"field":"hi","type":"quantitative","scale":{"domain":[-1,1],"nice":false,"zero":false},"axis":null}}},
   {"data":{"name":"points"},"transform":[{"filter":"datum.panel === 'f'"}],"mark":{"type":"point","filled":true,"color":"black","opacity":1,"size":60},
    "encoding":{"x":{"field":"cos","type":"quantitative","scale":{"domain":[-1,1],"reverse":true,"nice":false,"zero":false},"axis":null},"y":{"field":"A","type":"quantitative","scale":{"domain":[-1,1],"nice":false,"zero":false},"axis":null},"shape":{"field":"type","type":"nominal","scale":{"domain":["c","s"],"range":["circle","square"]},"legend":null}}},
   {"data":{"values":[{"t":"625 MeV/c"}]},"mark":{"type":"text","align":"left","baseline":"middle","font":"DejaVu Serif","fontSize":21,"color":"black"},
    "encoding":{"x":{"datum":0.93,"type":"quantitative","scale":{"domain":[-1,1],"reverse":true,"nice":false,"zero":false},"axis":null},"y":{"datum":0.8,"type":"quantitative","scale":{"domain":[-1,1],"nice":false,"zero":false},"axis":null},"text":{"field":"t"}}},
   {"data":{"values":[{"t":"Bareyre et al. ■"}]},"mark":{"type":"text","align":"left","baseline":"middle","font":"DejaVu Serif","fontSize":11,"fontWeight":"bold","color":"black"},
    "encoding":{"x":{"datum":0.92,"type":"quantitative","scale":{"domain":[-1,1],"reverse":true,"nice":false,"zero":false},"axis":null},"y":{"datum":0.61,"type":"quantitative","scale":{"domain":[-1,1],"nice":false,"zero":false},"axis":null},"text":{"field":"t"}}},
   {"data":{"values":[{"t":"PRESENT EXP. ●"}]},"mark":{"type":"text","align":"left","baseline":"middle","font":"DejaVu Serif","fontSize":11,"fontWeight":"bold","color":"black"},
    "encoding":{"x":{"datum":0.92,"type":"quantitative","scale":{"domain":[-1,1],"reverse":true,"nice":false,"zero":false},"axis":null},"y":{"datum":0.4,"type":"quantitative","scale":{"domain":[-1,1],"nice":false,"zero":false},"axis":null},"text":{"field":"t"}}},
   {"data":{"values":[{"t":"(f)"}]},"mark":{"type":"text","align":"right","baseline":"middle","font":"DejaVu Serif","fontSize":22,"color":"black"},
    "encoding":{"x":{"datum":-0.9,"type":"quantitative","scale":{"domain":[-1,1],"reverse":true,"nice":false,"zero":false},"axis":null},"y":{"datum":-0.82,"type":"quantitative","scale":{"domain":[-1,1],"nice":false,"zero":false},"axis":null},"text":{"field":"t"}}},
   {"data":{"values":[{"cos":0,"A":0}]},"mark":{"type":"point","opacity":0},
    "encoding":{"x":{"field":"cos","type":"quantitative","scale":{"domain":[-1,1],"reverse":true,"nice":false,"zero":false},"axis":{"orient":"top","values":[-1,-0.9,-0.8,-0.7,-0.6,-0.5,-0.4,-0.3,-0.2,-0.1,0,0.1,0.2,0.3,0.4,0.5,0.6,0.7,0.8,0.9,1],"tickSize":{"condition":{"test":"abs(datum.value*2-round(datum.value*2))<0.001","value":-9},"value":-5},"labels":false,"title":null}},
     "y":{"field":"A","type":"quantitative","scale":{"domain":[-1,1],"nice":false,"zero":false},"axis":{"orient":"right","values":[-1,-0.9,-0.8,-0.7,-0.6,-0.5,-0.4,-0.3,-0.2,-0.1,0,0.1,0.2,0.3,0.4,0.5,0.6,0.7,0.8,0.9,1],"tickSize":{"condition":{"test":"abs(datum.value*2-round(datum.value*2))<0.001","value":-9},"value":-5},"labels":false,"title":null}}}}
  ]}
]}
]
}
